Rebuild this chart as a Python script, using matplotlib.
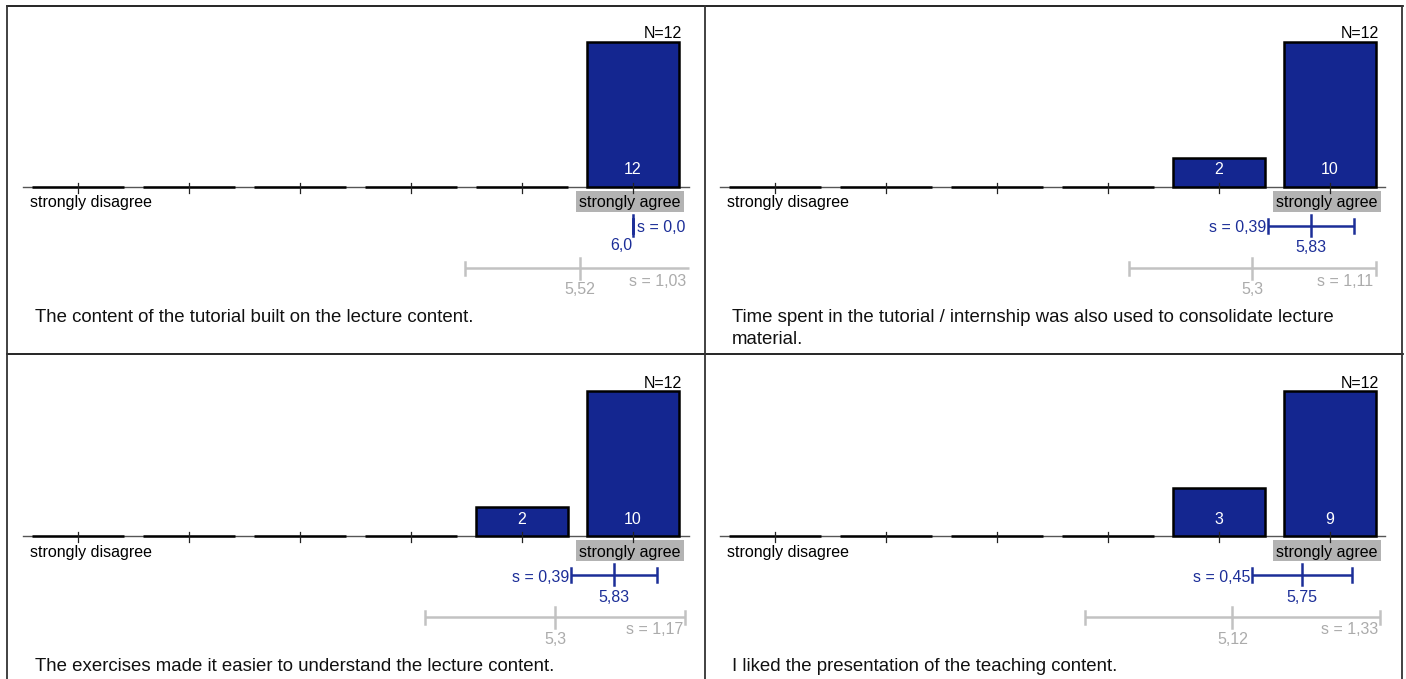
import matplotlib
matplotlib.use("Agg")
import matplotlib.pyplot as plt
import matplotlib.transforms as mtransforms
from matplotlib.lines import Line2D
from matplotlib.patches import Rectangle

W, H = 1406, 679
plt.rcParams['font.family'] = ['Liberation Sans', 'DejaVu Sans']

# ---------------- data ----------------
categories = [1, 2, 3, 4, 5, 6]
left_label = "strongly disagree"
right_label = "strongly agree"
questions = [
    "The content of the tutorial built on the lecture content.",
    "Time spent in the tutorial / internship was also used to consolidate lecture\nmaterial.",
    "The exercises made it easier to understand the lecture content.",
    "I liked the presentation of the teaching content.",
]
counts_q1 = [0, 0, 0, 0, 0, 12]
counts_q2 = [0, 0, 0, 0, 2, 10]
counts_q3 = [0, 0, 0, 0, 2, 10]
counts_q4 = [0, 0, 0, 0, 3, 9]
counts = [counts_q1, counts_q2, counts_q3, counts_q4]
n_values = [12, 12, 12, 12]
means = [6.0, 5.83, 5.83, 5.75]
sds = [0.0, 0.39, 0.39, 0.45]
ref_means = [5.52, 5.3, 5.3, 5.12]
ref_sds = [1.03, 1.11, 1.17, 1.33]

# ---------------- style ----------------
BAR = '#142690'
BLUE = '#1c2e98'
GREY_LINE = '#c2c2c2'
GREY_TEXT = '#ababab'
BOX = '#b3b3b3'
FS = 11.5
QFS = 13.4
SPACING = 111.0
BAR_H = 145.0
DY = 2  # vertical text correction (px)


def fmt(v):
    s = f"{v:.2f}".rstrip('0')
    if s.endswith('.'):
        s += '0'
    return s.replace('.', ',')


fig = plt.figure(figsize=(W / 100, H / 100), dpi=100)
fig.patch.set_facecolor('white')

# pixel transform (origin top-left, y downward) in figure space
pix = mtransforms.Affine2D().scale(1 / W, -1 / H).translate(0, 1) + fig.transFigure

# panel anchor: (x of category 1 in px, baseline y in px)
anchors = [(78, 187), (775, 187), (78, 536), (775, 536)]

for i in range(4):
    cx1, base = anchors[i]
    x0 = cx1 - 0.5 * SPACING
    ax = fig.add_axes([x0 / W, 1 - base / H, 6 * SPACING / W, BAR_H / H])
    ax.set_xlim(0.5, 6.5)
    ax.set_ylim(0, max(counts[i]))
    ax.axis('off')
    tr = mtransforms.blended_transform_factory(ax.transData, pix)

    # axis line
    ax.plot([0.5, 6.5], [base, base], transform=tr, color='#555555', lw=1.0,
            clip_on=False, zorder=1)
    # bars
    ax.bar(categories, counts[i], width=0.83, color=BAR, edgecolor='black',
           linewidth=1.8, clip_on=False, zorder=2)
    # ticks
    for c in categories:
        ax.plot([c, c], [base - 4, base + 6], transform=tr, color='#222222',
                lw=0.9, clip_on=False, zorder=3)
    # count labels
    for c, v in zip(categories, counts[i]):
        if v > 0:
            ax.text(c, base - 19 + DY, str(v), transform=tr, ha='center',
                    va='center', color='white', fontsize=FS, zorder=4)
    # N label
    ax.text(6.44, base - 155 + DY, f"N={n_values[i]}", transform=tr, ha='right',
            va='center', fontsize=FS, color='black')

    # scale labels
    ax.text(1 - 0.43, base + 14 + DY, left_label, transform=tr, ha='left',
            va='center', fontsize=FS, color='black')
    ax.add_patch(Rectangle((6 - 0.03 - 0.487, base + 3.5), 0.973, 21,
                           transform=tr, facecolor=BOX, edgecolor='none',
                           clip_on=False, zorder=1))
    ax.text(6 - 0.03, base + 14 + DY, right_label, transform=tr, ha='center',
            va='center', fontsize=FS, color='black', zorder=2)

    # blue mean / sd bar
    m, s = means[i], sds[i]
    yb = base + 39
    lo, hi = m - s, m + s
    ax.plot([lo, hi], [yb, yb], transform=tr, color=BLUE, lw=1.8, clip_on=False,
            solid_capstyle='butt')
    for e in (lo, hi):
        ax.plot([e, e], [yb - 7, yb + 7], transform=tr, color=BLUE, lw=1.8,
                clip_on=False)
    ax.plot([m, m], [yb - 11, yb + 10], transform=tr, color=BLUE, lw=1.8,
            clip_on=False)
    if s > 0:
        ax.text(lo - 2 / SPACING, yb + DY, f"s = {fmt(s)}", transform=tr,
                ha='right', va='center', fontsize=FS, color=BLUE)
        ax.text(m, yb + 20 + DY, fmt(m), transform=tr, ha='center', va='center',
                fontsize=FS, color=BLUE)
    else:
        ax.text(m + 4 / SPACING, yb + DY, f"s = {fmt(s)}", transform=tr,
                ha='left', va='center', fontsize=FS, color=BLUE)
        ax.text(m - 1 / SPACING, yb + 18 + DY, fmt(m), transform=tr, ha='right',
                va='center', fontsize=FS, color=BLUE)

    # grey reference bar
    rm, rs = ref_means[i], ref_sds[i]
    yg = base + 81
    rlo, rhi = rm - rs, rm + rs
    rhi_c = min(rhi, 6.5)
    ax.plot([rlo, rhi_c], [yg, yg], transform=tr, color=GREY_LINE, lw=1.8,
            clip_on=False, solid_capstyle='butt')
    ax.plot([rlo, rlo], [yg - 6.5, yg + 6.5], transform=tr, color=GREY_LINE,
            lw=1.8, clip_on=False)
    if rhi <= 6.5:
        ax.plot([rhi, rhi], [yg - 6.5, yg + 6.5], transform=tr, color=GREY_LINE,
                lw=1.8, clip_on=False)
    ax.plot([rm, rm], [yg - 10, yg + 11], transform=tr, color=GREY_LINE, lw=1.8,
            clip_on=False)
    ax.text(rhi_c - 2 / SPACING, yg + 11 + DY, f"s = {fmt(rs)}", transform=tr,
            ha='right', va='center', fontsize=FS, color=GREY_TEXT)
    ax.text(rm, yg + 20 + DY, fmt(rm), transform=tr, ha='center', va='center',
            fontsize=FS, color=GREY_TEXT)

    # question text
    qx = (35 if cx1 < 400 else 732)
    fig.text(qx / W, 1 - (base + 122) / H, questions[i], ha='left', va='top',
             fontsize=QFS, color='#111111', linespacing=1.38)

# panel borders
def hline(y, x_a, x_b):
    fig.add_artist(Line2D([x_a / W, x_b / W], [1 - y / H, 1 - y / H],
                          transform=fig.transFigure, color='black', lw=1.2))

def vline(x, y_a, y_b):
    fig.add_artist(Line2D([x / W, x / W], [1 - y_a / H, 1 - y_b / H],
                          transform=fig.transFigure, color='#333333', lw=1.3))

hline(5.5, 6.5, 1402.5)
hline(354, 6.5, 1402.5)
vline(6.5, 5.5, 679)
vline(705, 5.5, 679)
vline(1402, 5.5, 679)

fig.savefig('out.png', dpi=100, facecolor='white')
